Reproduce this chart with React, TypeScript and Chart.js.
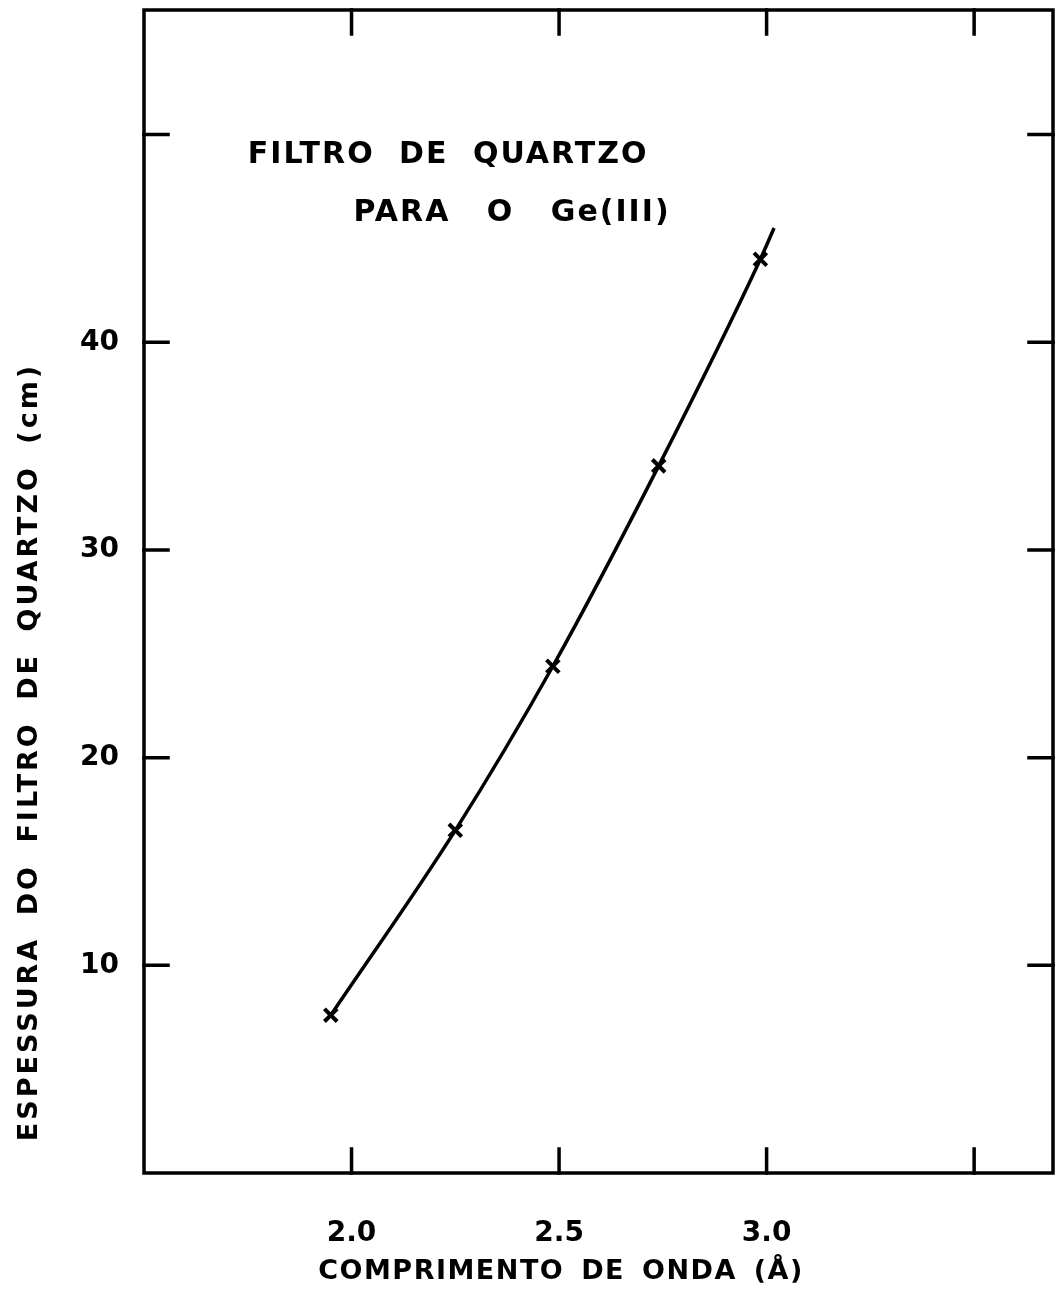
import { useEffect, useRef } from 'react';
import { Chart, registerables } from 'chart.js';

Chart.register(...registerables);

// Measured filter thickness (cm) against wavelength (Å)
const wavelength = [1.95, 2.25, 2.485, 2.74, 2.985];
const thickness = [7.6, 16.5, 24.4, 34.05, 44.0];

// Drawn curve: runs through the measurements and a little past the last one
const curveWavelength = [1.95, 2.25, 2.485, 2.74, 2.985, 3.018];
const curveThickness = [7.6, 16.5, 24.4, 34.05, 44.0, 45.5];

// Ticks that carry a printed label
const xLabeledTicks = [2.0, 2.5, 3.0];
const yLabeledTicks = [10, 20, 30, 40];

const titleLine1 = 'FILTRO DE QUARTZO';
const titleLine2 = 'PARA O Ge(III)';
const xTitle = 'COMPRIMENTO DE ONDA (Å)';
const yTitle = 'ESPESSURA DO FILTRO DE QUARTZO (cm)';

const FONT = '"DejaVu Sans", "Liberation Sans", sans-serif';
const INK = '#000';

const near = (list: number[], v: number) => list.some((t) => Math.abs(t - v) < 1e-6);

// Frame around the plot area plus inward tick marks on all four sides
const framePlugin = {
  id: 'frame',
  afterDatasetsDraw(chart: any) {
    const { ctx, chartArea: a, scales } = chart;
    const len = 24;
    ctx.save();
    ctx.strokeStyle = INK;
    ctx.lineWidth = 3.5;
    ctx.lineCap = 'square';
    ctx.strokeRect(a.left, a.top, a.right - a.left, a.bottom - a.top);
    ctx.beginPath();
    for (const t of scales.x.ticks) {
      const px = scales.x.getPixelForValue(t.value);
      if (px <= a.left + 2 || px >= a.right - 2) continue;
      ctx.moveTo(px, a.bottom);
      ctx.lineTo(px, a.bottom - len);
      ctx.moveTo(px, a.top);
      ctx.lineTo(px, a.top + len);
    }
    for (const t of scales.y.ticks) {
      const py = scales.y.getPixelForValue(t.value);
      if (py >= a.bottom - 2 || py <= a.top + 2) continue;
      ctx.moveTo(a.left, py);
      ctx.lineTo(a.left + len, py);
      ctx.moveTo(a.right, py);
      ctx.lineTo(a.right - len, py);
    }
    ctx.stroke();
    ctx.restore();
  },
};

// Axis titles and the caption inside the plot
const textPlugin = {
  id: 'captions',
  afterDraw(chart: any) {
    const { ctx, scales, chartArea: a } = chart;
    ctx.save();
    ctx.fillStyle = INK;
    ctx.textBaseline = 'middle';

    ctx.font = `bold 30px ${FONT}`;
    (ctx as any).letterSpacing = '2px';
    (ctx as any).wordSpacing = '12px';
    ctx.textAlign = 'left';
    ctx.fillText(titleLine1, scales.x.getPixelForValue(1.75), scales.y.getPixelForValue(49.0));
    (ctx as any).wordSpacing = '24px';
    ctx.fillText(titleLine2, scales.x.getPixelForValue(2.005), scales.y.getPixelForValue(46.2));

    ctx.font = `bold 27px ${FONT}`;
    (ctx as any).letterSpacing = '1.5px';
    (ctx as any).wordSpacing = '6px';
    ctx.textAlign = 'center';
    ctx.fillText(xTitle, 561, a.bottom + 99);

    ctx.translate(30, 752);
    ctx.rotate(-Math.PI / 2);
    (ctx as any).letterSpacing = '3px';
    (ctx as any).wordSpacing = '9px';
    ctx.fillText(yTitle, 0, 0);
    ctx.restore();
  },
};

export default function App() {
  const canvasRef = useRef<HTMLCanvasElement>(null);

  useEffect(() => {
    const canvas = canvasRef.current;
    if (!canvas) return;
    const tickFont = { family: FONT, size: 28, weight: 'bold' as const };
    const chart = new Chart(canvas, {
      type: 'scatter',
      data: {
        datasets: [
          {
            label: 'curva',
            data: curveWavelength.map((x, i) => ({ x, y: curveThickness[i] })),
            showLine: true,
            borderColor: INK,
            borderWidth: 3.5,
            pointRadius: 0,
            cubicInterpolationMode: 'monotone',
            fill: false,
          },
          {
            label: 'medidas',
            data: wavelength.map((x, i) => ({ x, y: thickness[i] })),
            showLine: false,
            pointStyle: 'crossRot',
            pointRadius: 9,
            borderColor: INK,
            backgroundColor: INK,
            borderWidth: 4,
          },
        ],
      },
      options: {
        animation: false,
        responsive: true,
        maintainAspectRatio: false,
        layout: { autoPadding: false, padding: { top: 10, right: 7, left: 0, bottom: 0 } },
        plugins: { legend: { display: false }, tooltip: { enabled: false } },
        scales: {
          x: {
            type: 'linear',
            position: 'bottom',
            min: 1.5,
            max: 3.69,
            afterFit: (s: any) => {
              s.height = 128;
              s.paddingLeft = 0;
              s.paddingRight = 0;
            },
            grid: { display: false, drawTicks: false },
            border: { display: false },
            ticks: {
              stepSize: 0.5,
              includeBounds: false,
              autoSkip: false,
              maxRotation: 0,
              padding: 44,
              color: INK,
              font: tickFont,
              callback: (v: any) => (near(xLabeledTicks, Number(v)) ? Number(v).toFixed(1) : ''),
            },
          },
          y: {
            type: 'linear',
            position: 'left',
            min: 0,
            max: 56,
            afterFit: (s: any) => {
              s.width = 144;
              s.paddingTop = 0;
              s.paddingBottom = 0;
            },
            grid: { display: false, drawTicks: false },
            border: { display: false },
            ticks: {
              stepSize: 10,
              includeBounds: false,
              autoSkip: false,
              padding: 25,
              color: INK,
              font: tickFont,
              callback: (v: any) => (near(yLabeledTicks, Number(v)) ? String(v) : ''),
            },
          },
        },
      },
      plugins: [framePlugin, textPlugin],
    });
    return () => chart.destroy();
  }, []);

  return (
    <div style={{ position: 'absolute', left: 0, top: 0, width: 1060, height: 1301, background: '#fff' }}>
      <canvas ref={canvasRef} />
    </div>
  );
}
